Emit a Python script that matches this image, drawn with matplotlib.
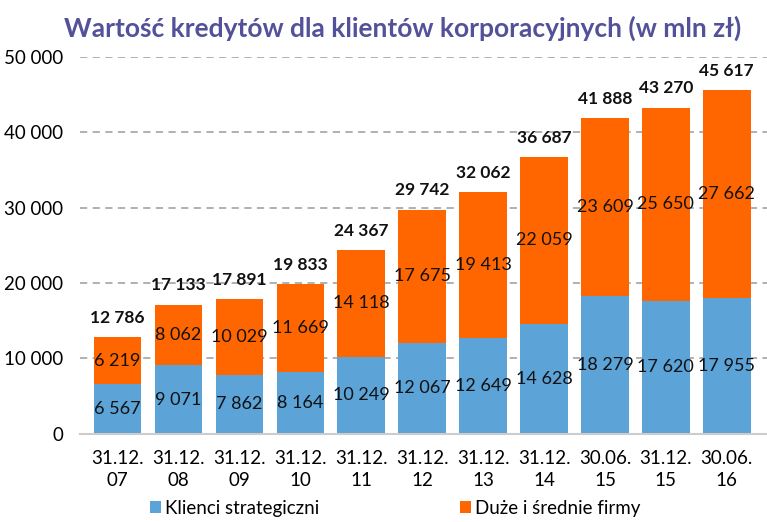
import matplotlib
matplotlib.use("Agg")
import matplotlib.pyplot as plt
from matplotlib.ticker import FuncFormatter

dates = ["31.12.\n07", "31.12.\n08", "31.12.\n09", "31.12.\n10", "31.12.\n11", "31.12.\n12",
         "31.12.\n13", "31.12.\n14", "30.06.\n15", "31.12.\n15", "30.06.\n16"]
strategic = [6567, 9071, 7862, 8164, 10249, 12067, 12649, 14628, 18279, 17620, 17955]
large_mid = [6219, 8062, 10029, 11669, 14118, 17675, 19413, 22059, 23609, 25650, 27662]
totals = [12786, 17133, 17891, 19833, 24367, 29742, 32062, 36687, 41888, 43270, 45617]

BLUE = "#5CA3D8"
ORANGE = "#FF6600"
TITLE = "#525199"


def fmt(v):
    return f"{v:,.0f}".replace(",", " ")


plt.rcParams["font.family"] = ["Lato", "DejaVu Sans"]

fig = plt.figure(figsize=(7.67, 5.22), dpi=100)
ax = fig.add_axes([0.104, 0.169, 0.896, 0.722])

x = list(range(len(dates)))
ax.bar(x, strategic, width=0.78, color=BLUE, label="Klienci strategiczni", zorder=2)
ax.bar(x, large_mid, width=0.78, bottom=strategic, color=ORANGE,
       label="Duże i średnie firmy", zorder=2)

for i in x:
    ax.text(i, strategic[i] / 2, fmt(strategic[i]), ha="center", va="center",
            fontsize=13, color="#111111", zorder=3)
    ax.text(i, strategic[i] + large_mid[i] / 2, fmt(large_mid[i]), ha="center",
            va="center", fontsize=13, color="#111111", zorder=3)
    ax.text(i, totals[i] + 1500, fmt(totals[i]), ha="center", va="bottom",
            fontsize=12.5, fontweight="bold", color="#111111", zorder=3)

ax.set_ylim(0, 50000)
ax.set_xlim(-0.62, 10.66)
ax.set_yticks(range(0, 50001, 10000))
ax.yaxis.set_major_formatter(FuncFormatter(lambda v, p: fmt(v)))
ax.set_xticks(x)
ax.set_xticklabels(dates, linespacing=1.35)
ax.tick_params(axis="y", length=0, labelsize=13.5, pad=12)
ax.tick_params(axis="x", length=0, labelsize=13.5, pad=12)
ax.grid(axis="y", color="#aaaaaa", linestyle=(0, (4, 3)), linewidth=1.3, zorder=0)
for side in ["top", "right", "left"]:
    ax.spines[side].set_visible(False)
ax.spines["bottom"].set_color("#cccccc")
ax.spines["bottom"].set_linewidth(1.5)

fig.text(0.525, 0.945, "Wartość kredytów dla klientów korporacyjnych (w mln zł)",
         ha="center", va="center", fontsize=19, fontweight="bold", color=TITLE)

fig.legend(loc="lower center", bbox_to_anchor=(0.515, -0.022), ncol=2, frameon=False,
           fontsize=13.5, handlelength=0.6, handleheight=0.6, handletextpad=0.2,
           columnspacing=7.5)

fig.savefig("out.png", dpi=100)
